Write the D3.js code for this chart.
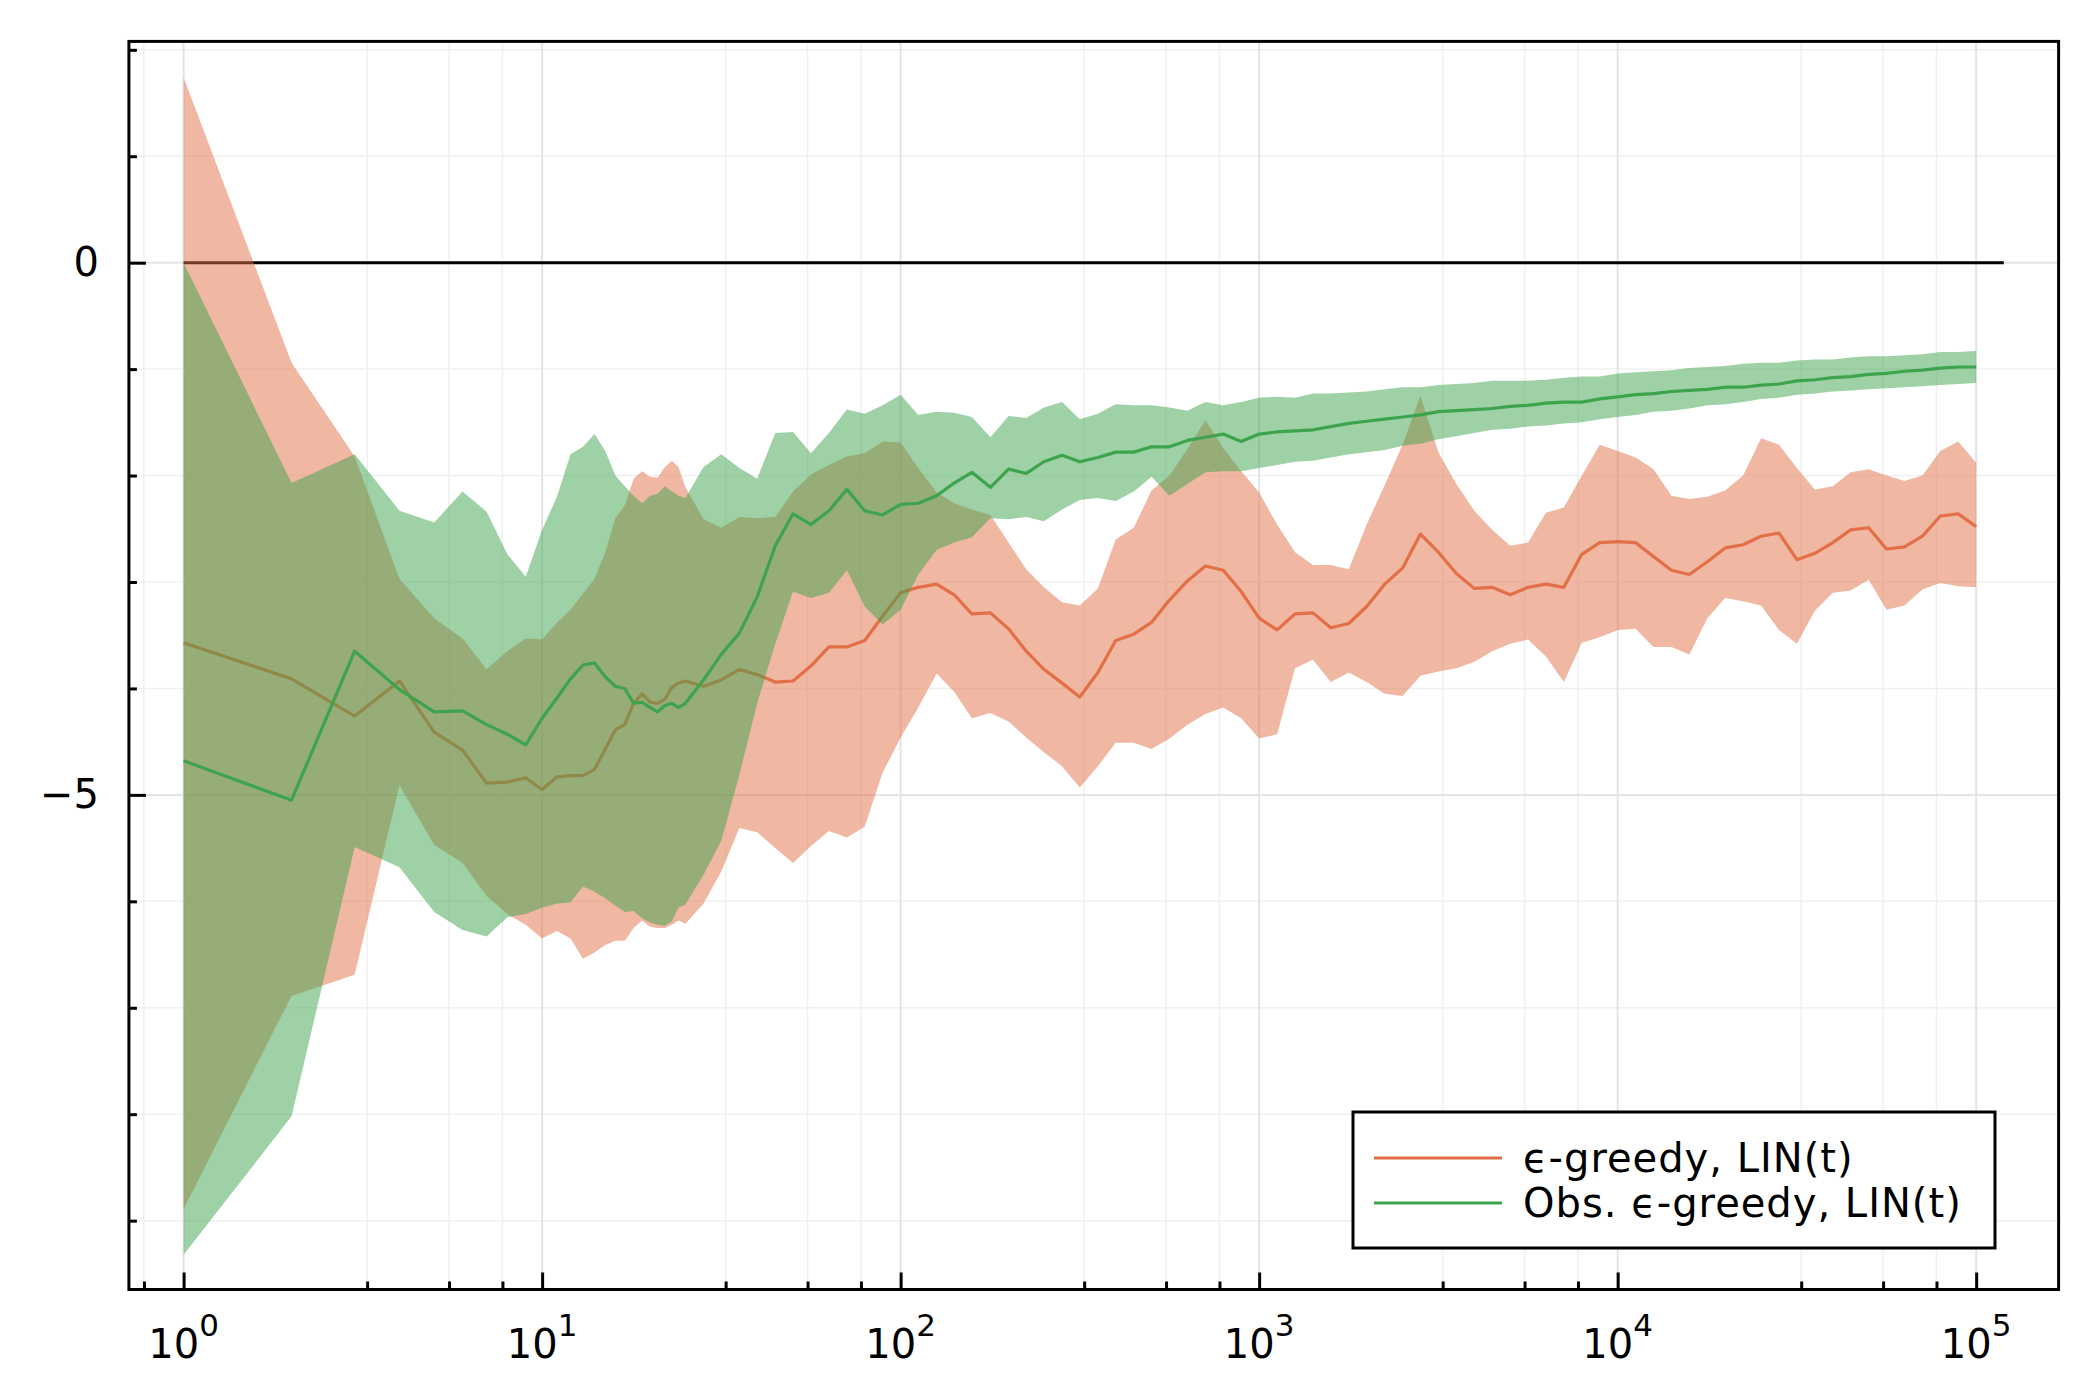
<!DOCTYPE html>
<html>
<head>
<meta charset="utf-8">
<script src="https://cdn.jsdelivr.net/npm/d3@7"></script>
<style>
  body { margin: 0; background: #fff; }
  svg { display: block; font-family: "DejaVu Sans", sans-serif; }
</style>
</head>
<body>
<svg width="2100" height="1400"></svg>
<script>
// DATA

var steps = [1, 2, 3, 4, 5, 6, 7, 8, 9, 10, 11, 12, 13, 14, 15, 16, 17, 18, 19, 20, 21, 22, 23, 24,
    25.1, 28.2, 31.6, 35.5, 39.8, 44.7, 50.1, 56.2, 63.1, 70.8, 79.4, 89.1,
    100, 112, 126, 141, 158, 178, 200, 224, 251, 282, 316, 355, 398, 447, 501, 562, 631, 708, 794, 891,
    1000, 1122, 1259, 1413, 1585, 1778, 1995, 2239, 2512, 2818, 3162, 3548, 3981, 4467, 5012, 5623, 6310, 7079, 7943, 8913,
    10000, 11220, 12589, 14125, 15849, 17783, 19953, 22387, 25119, 28184, 31623, 35481, 39811, 44668, 50119, 56234, 63096, 70795, 79433, 89125,
    100000];

// eps-greedy, LIN(t)
var greedyMean = [-3.57, -3.91, -4.26, -3.93, -4.41, -4.58, -4.89, -4.88, -4.84, -4.95, -4.83, -4.82, -4.82, -4.76, -4.57, -4.39, -4.34, -4.14, -4.05, -4.13, -4.14, -4.10, -3.99, -3.95,
    -3.93, -3.98, -3.92, -3.82, -3.87, -3.94, -3.93, -3.79, -3.61, -3.61, -3.55, -3.32,
    -3.10, -3.05, -3.02, -3.12, -3.30, -3.29, -3.44, -3.65, -3.82, -3.95, -4.08, -3.85, -3.55, -3.49, -3.38, -3.17, -2.99, -2.85, -2.89, -3.09,
    -3.34, -3.45, -3.30, -3.29, -3.43, -3.39, -3.23, -3.02, -2.87, -2.55, -2.72, -2.92, -3.06, -3.05, -3.12, -3.05, -3.02, -3.05, -2.74, -2.63,
    -2.62, -2.63, -2.76, -2.89, -2.93, -2.81, -2.68, -2.65, -2.57, -2.54, -2.79, -2.73, -2.63, -2.51, -2.49, -2.69, -2.67, -2.57, -2.38, -2.36,
    -2.48];
var greedyHi = [1.74, -0.94, -1.82, -2.97, -3.34, -3.53, -3.82, -3.65, -3.53, -3.54, -3.38, -3.26, -3.11, -2.97, -2.72, -2.40, -2.28, -2.03, -1.96, -2.01, -2.02, -1.92, -1.86, -1.92,
    -2.11, -2.41, -2.49, -2.39, -2.40, -2.39, -2.15, -1.99, -1.90, -1.82, -1.79, -1.68,
    -1.69, -1.93, -2.16, -2.26, -2.32, -2.37, -2.63, -2.88, -3.05, -3.19, -3.22, -3.06, -2.60, -2.49, -2.14, -2.00, -1.75, -1.48, -1.74, -1.96,
    -2.16, -2.46, -2.72, -2.84, -2.84, -2.88, -2.46, -2.09, -1.71, -1.25, -1.78, -2.08, -2.33, -2.51, -2.66, -2.63, -2.35, -2.30, -2.00, -1.71,
    -1.77, -1.83, -1.94, -2.19, -2.22, -2.20, -2.14, -2.00, -1.65, -1.71, -1.93, -2.13, -2.10, -1.97, -1.94, -2.00, -2.05, -2.00, -1.77, -1.68,
    -1.88];
var greedyLo = [-8.89, -6.89, -6.69, -4.91, -5.47, -5.64, -5.95, -6.12, -6.22, -6.35, -6.28, -6.35, -6.54, -6.48, -6.41, -6.37, -6.37, -6.25, -6.18, -6.24, -6.25, -6.25, -6.22, -6.18,
    -6.21, -6.02, -5.72, -5.31, -5.35, -5.50, -5.64, -5.48, -5.34, -5.40, -5.30, -4.79,
    -4.46, -4.18, -3.86, -4.03, -4.28, -4.23, -4.31, -4.46, -4.60, -4.73, -4.93, -4.73, -4.51, -4.51, -4.57, -4.47, -4.34, -4.24, -4.18, -4.28,
    -4.47, -4.43, -3.81, -3.73, -3.94, -3.85, -3.94, -4.05, -4.07, -3.88, -3.84, -3.81, -3.75, -3.65, -3.58, -3.54, -3.70, -3.94, -3.57, -3.52,
    -3.45, -3.44, -3.61, -3.61, -3.68, -3.34, -3.15, -3.18, -3.22, -3.45, -3.58, -3.27, -3.10, -3.08, -2.98, -3.26, -3.22, -3.07, -3.01, -3.04,
    -3.05];

// Obs. eps-greedy, LIN(t)
var obsMean = [-4.68, -5.05, -3.65, -4.01, -4.22, -4.21, -4.34, -4.43, -4.53, -4.28, -4.09, -3.91, -3.78, -3.76, -3.89, -3.98, -4.00, -4.14, -4.13, -4.18, -4.22, -4.16, -4.14, -4.18,
    -4.14, -3.92, -3.68, -3.48, -3.14, -2.66, -2.36, -2.46, -2.33, -2.13, -2.33, -2.37,
    -2.27, -2.26, -2.19, -2.07, -1.97, -2.11, -1.94, -1.98, -1.87, -1.81, -1.87, -1.83, -1.78, -1.78, -1.73, -1.73, -1.67, -1.64, -1.61, -1.68,
    -1.61, -1.59, -1.58, -1.57, -1.54, -1.51, -1.49, -1.47, -1.45, -1.43, -1.40, -1.39, -1.38, -1.37, -1.35, -1.34, -1.32, -1.31, -1.31, -1.28,
    -1.26, -1.24, -1.23, -1.21, -1.20, -1.19, -1.17, -1.17, -1.15, -1.14, -1.11, -1.10, -1.08, -1.07, -1.05, -1.04, -1.02, -1.01, -0.99, -0.98,
    -0.98];
var obsHi = [0, -2.07, -1.80, -2.33, -2.44, -2.15, -2.34, -2.74, -2.95, -2.51, -2.20, -1.80, -1.73, -1.61, -1.77, -2.00, -2.10, -2.19, -2.26, -2.19, -2.17, -2.10, -2.15, -2.19,
    -2.21, -1.92, -1.80, -1.93, -2.03, -1.60, -1.59, -1.79, -1.60, -1.38, -1.42, -1.34,
    -1.24, -1.43, -1.40, -1.41, -1.45, -1.64, -1.44, -1.46, -1.36, -1.31, -1.47, -1.42, -1.33, -1.34, -1.34, -1.36, -1.39, -1.31, -1.34, -1.31,
    -1.27, -1.26, -1.27, -1.23, -1.23, -1.22, -1.21, -1.19, -1.17, -1.17, -1.15, -1.14, -1.13, -1.11, -1.11, -1.11, -1.10, -1.08, -1.07, -1.07,
    -1.04, -1.03, -1.02, -1.01, -0.99, -0.98, -0.97, -0.95, -0.94, -0.94, -0.92, -0.91, -0.91, -0.89, -0.88, -0.88, -0.87, -0.86, -0.84, -0.84,
    -0.83];
var obsLo = [-9.32, -8.02, -5.49, -5.68, -6.10, -6.27, -6.33, -6.15, -6.12, -6.06, -6.02, -6.01, -5.86, -5.91, -5.97, -6.04, -6.10, -6.09, -6.16, -6.20, -6.22, -6.23, -6.19, -6.06,
    -6.03, -5.75, -5.43, -4.81, -4.14, -3.58, -3.09, -3.15, -3.10, -2.89, -3.23, -3.40,
    -3.26, -2.93, -2.70, -2.63, -2.58, -2.40, -2.41, -2.39, -2.43, -2.32, -2.23, -2.21, -2.24, -2.15, -2.01, -2.19, -2.08, -1.97, -1.96, -1.96,
    -1.93, -1.90, -1.87, -1.86, -1.83, -1.80, -1.78, -1.76, -1.72, -1.70, -1.66, -1.63, -1.60, -1.57, -1.56, -1.54, -1.53, -1.51, -1.50, -1.47,
    -1.45, -1.43, -1.40, -1.39, -1.37, -1.34, -1.33, -1.31, -1.28, -1.27, -1.24, -1.23, -1.21, -1.20, -1.19, -1.18, -1.17, -1.16, -1.15, -1.14,
    -1.13];

var zeroLineX = [1, 119400];

var xMajorTicks = [1, 10, 100, 1000, 10000, 100000];
var xMajorExp = ["0", "1", "2", "3", "4", "5"];
var xMinorTicks = [0.775, 3.25, 5.5, 7.75, 32.5, 55, 77.5, 325, 550, 775, 3250, 5500, 7750, 32500, 55000, 77500];
var yMajorTicks = [0, -5];
var yMajorLabels = ["0", "\u22125"];
var yMinorTicks = [2, 1, -1, -2, -3, -4, -6, -7, -8, -9];

var legendLabels = ["\u03f5-greedy, LIN(t)", "Obs. \u03f5-greedy, LIN(t)"];
var colors = ["#e26f46", "#3da44d"];


// SETUP

var svg = d3.select("svg"),
    plotL = 128.9, plotR = 2058.6, plotT = 41.4, plotB = 1289.5,
    x = d3.scaleLog().domain([0.7037, 169800]).range([plotL, plotR]),
    y = d3.scaleLinear().domain([-9.647, 2.079]).range([plotB, plotT]);

function rows(mean, lo, hi) {
    return steps.map(function (t, i) { return { t: t, m: mean[i], lo: lo[i], hi: hi[i] }; });
}

var series = [rows(greedyMean, greedyLo, greedyHi), rows(obsMean, obsLo, obsHi)];

// GRID

var grid = svg.append("g");

grid.selectAll(".gx-minor").data(xMinorTicks).enter().append("line")
    .attr("x1", function (d) { return x(d); }).attr("x2", function (d) { return x(d); })
    .attr("y1", plotT).attr("y2", plotB)
    .attr("stroke", "#f0f0f0").attr("stroke-width", 1.5);

grid.selectAll(".gy-minor").data(yMinorTicks).enter().append("line")
    .attr("x1", plotL).attr("x2", plotR)
    .attr("y1", function (d) { return y(d); }).attr("y2", function (d) { return y(d); })
    .attr("stroke", "#f0f0f0").attr("stroke-width", 1.5);

grid.selectAll(".gx-major").data(xMajorTicks).enter().append("line")
    .attr("x1", function (d) { return x(d); }).attr("x2", function (d) { return x(d); })
    .attr("y1", plotT).attr("y2", plotB)
    .attr("stroke", "#e4e4e4").attr("stroke-width", 2);

grid.selectAll(".gy-major").data(yMajorTicks).enter().append("line")
    .attr("x1", plotL).attr("x2", plotR)
    .attr("y1", function (d) { return y(d); }).attr("y2", function (d) { return y(d); })
    .attr("stroke", "#e4e4e4").attr("stroke-width", 2);

// SERIES

svg.append("line")
    .attr("x1", x(zeroLineX[0])).attr("x2", x(zeroLineX[1]))
    .attr("y1", y(0)).attr("y2", y(0))
    .attr("stroke", "#000").attr("stroke-width", 3);

var area = d3.area()
    .x(function (d) { return x(d.t); })
    .y0(function (d) { return y(d.lo); })
    .y1(function (d) { return y(d.hi); });

var line = d3.line()
    .x(function (d) { return x(d.t); })
    .y(function (d) { return y(d.m); });

series.forEach(function (s, i) {
    svg.append("path")
        .datum(s)
        .attr("d", area)
        .attr("fill", colors[i])
        .attr("fill-opacity", 0.5);
    svg.append("path")
        .datum(s)
        .attr("d", line)
        .attr("fill", "none")
        .attr("stroke", colors[i])
        .attr("stroke-width", 3.2)
        .attr("stroke-linejoin", "round");
});

// AXES

var xAxisG = svg.append("g").attr("transform", "translate(0," + plotB + ")");
xAxisG.call(d3.axisBottom(x).tickValues(xMinorTicks).tickSize(-8).tickFormat(""));
xAxisG.append("g").call(d3.axisBottom(x).tickValues(xMajorTicks).tickSize(-17).tickFormat(""));

var yAxisG = svg.append("g").attr("transform", "translate(" + plotL + ",0)");
yAxisG.call(d3.axisLeft(y).tickValues(yMinorTicks).tickSize(-8).tickFormat(""));
yAxisG.append("g").call(d3.axisLeft(y).tickValues(yMajorTicks).tickSize(-17).tickPadding(30)
    .tickFormat(function (d, i) { return yMajorLabels[i]; }));

svg.selectAll(".domain").remove();
svg.selectAll(".tick line").attr("stroke", "#000").attr("stroke-width", 3);
yAxisG.selectAll("text").attr("font-size", 40).attr("font-family", "DejaVu Sans").attr("fill", "#000");

var xLabels = svg.append("g").selectAll("text").data(xMajorTicks).enter().append("text")
    .attr("x", function (d) { return x(d); })
    .attr("y", 1358)
    .attr("text-anchor", "middle")
    .attr("font-size", 40);
xLabels.append("tspan").text("10");
xLabels.append("tspan")
    .attr("font-size", 31)
    .attr("dy", -22)
    .text(function (d, i) { return xMajorExp[i]; });

// frame
svg.append("rect")
    .attr("x", plotL).attr("y", plotT)
    .attr("width", plotR - plotL).attr("height", plotB - plotT)
    .attr("fill", "none").attr("stroke", "#000").attr("stroke-width", 3);

// LEGEND

var legend = svg.append("g");
legend.append("rect")
    .attr("x", 1353).attr("y", 1112)
    .attr("width", 642).attr("height", 136)
    .attr("fill", "#fff").attr("stroke", "#000").attr("stroke-width", 3);

legendLabels.forEach(function (label, i) {
    var ly = 1158 + i * 45;
    legend.append("line")
        .attr("x1", 1374).attr("x2", 1502)
        .attr("y1", ly).attr("y2", ly)
        .attr("stroke", colors[i]).attr("stroke-width", 3);
    legend.append("text")
        .attr("x", 1523).attr("y", ly + 14)
        .attr("font-size", 40)
        .attr("letter-spacing", 1)
        .text(label);
});
</script>
</body>
</html>
